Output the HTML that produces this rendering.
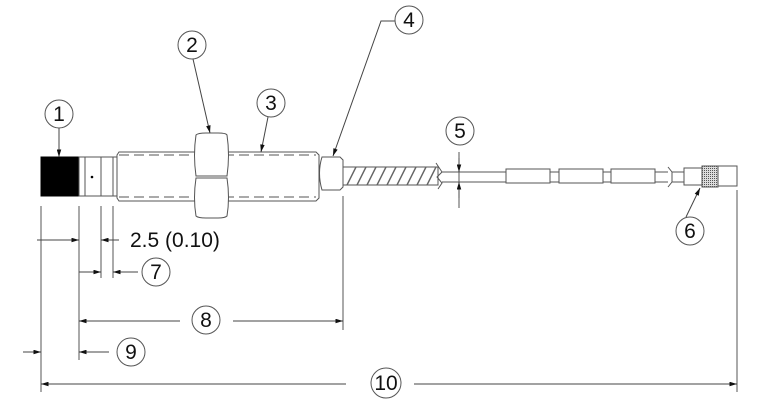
<!DOCTYPE html>
<html><head><style>
html,body{margin:0;padding:0;background:#fff;}
svg{display:block;}
text{font-family:"Liberation Sans",sans-serif;fill:#111;}
</style></head><body>
<svg width="771" height="413" viewBox="0 0 771 413" xmlns="http://www.w3.org/2000/svg">
<defs>
<marker id="a" viewBox="0 0 10 6" refX="10" refY="3" markerWidth="8" markerHeight="4.5" orient="auto" markerUnits="userSpaceOnUse"><path d="M0,0 L10,3 L0,6 z" fill="#111"/></marker>
<pattern id="k" width="2" height="2" patternUnits="userSpaceOnUse"><rect width="2" height="2" fill="#ddd"/><rect width="1" height="1" fill="#555"/></pattern>
</defs>
<g stroke="#555" stroke-width="1" fill="none">
<rect x="41" y="157" width="38" height="39" fill="#000" stroke="#000"/>
<rect x="79" y="157" width="38" height="39" fill="#fff"/>
<line x1="85" y1="157" x2="85" y2="196"/>
<line x1="101" y1="157" x2="101" y2="196"/>
<line x1="113" y1="157" x2="113" y2="196"/>
<circle cx="92" cy="177" r="1.3" fill="#000" stroke="none"/>
<path d="M117,155 L119,152 L316,152 L319,155 L319,198 L316,201 L119,201 L117,198 Z" fill="#fff"/>
<line x1="119" y1="155" x2="316" y2="155" stroke-dasharray="10,5"/>
<line x1="119" y1="197" x2="316" y2="197" stroke-dasharray="10,5"/>
<path d="M196,135 Q198,133 206,133 L218,133 Q226,133 227,135 Q230,155 227,176 L196,176 Q193,155 196,135 Z" fill="#fff"/>
<path d="M196,178 L227,178 Q230,198 227,216 Q225,218 218,218 L206,218 Q198,218 196,216 Q193,198 196,178 Z" fill="#fff"/>
<path d="M322,157 L340,157 L343,160 L343,187 L340,190 L322,190 Q317,173 322,157 Z" fill="#fff"/>
<rect x="343" y="167" width="95" height="18" fill="#fff"/>
<g stroke="#666" stroke-width="1.4">
<line x1="347" y1="185" x2="356" y2="167"/><line x1="357" y1="185" x2="366" y2="167"/>
<line x1="367" y1="185" x2="376" y2="167"/><line x1="377" y1="185" x2="386" y2="167"/>
<line x1="387" y1="185" x2="396" y2="167"/><line x1="397" y1="185" x2="406" y2="167"/>
<line x1="407" y1="185" x2="416" y2="167"/><line x1="417" y1="185" x2="426" y2="167"/>
<line x1="427" y1="185" x2="436" y2="167"/>
</g>
<path d="M436,163 L442,172 L437,177 L442,183 L438,189"/>
<line x1="442" y1="172" x2="668" y2="172"/>
<line x1="442" y1="182" x2="668" y2="182"/>
<rect x="506" y="169" width="44" height="14" fill="#fff"/>
<rect x="559" y="169" width="44" height="14" fill="#fff"/>
<rect x="611" y="169" width="44" height="14" fill="#fff"/>
<path d="M668,167 L672,172 L672,182 L668,187" fill="#fff"/>
<line x1="672" y1="172" x2="684" y2="172"/>
<line x1="672" y1="182" x2="684" y2="182"/>
<rect x="684" y="168" width="18" height="17" fill="#fff"/>
<rect x="702" y="166" width="16" height="21" fill="url(#k)"/>
<rect x="718" y="166" width="19" height="20" fill="#fff"/>
<line x1="41" y1="206" x2="41" y2="392"/>
<line x1="79" y1="206" x2="79" y2="360"/>
<line x1="101" y1="206" x2="101" y2="278"/>
<line x1="113" y1="206" x2="113" y2="278"/>
<line x1="343" y1="196" x2="343" y2="330"/>
<line x1="737" y1="190" x2="737" y2="392"/>
<line x1="459" y1="152" x2="459" y2="208"/>
</g>
<g stroke="#444" stroke-width="1" fill="none">
<line x1="37" y1="240" x2="79" y2="240" marker-end="url(#a)"/>
<line x1="119" y1="240" x2="101" y2="240" marker-end="url(#a)"/>
<line x1="79" y1="272" x2="101" y2="272" marker-end="url(#a)"/>
<line x1="138" y1="272" x2="113" y2="272" marker-end="url(#a)"/>
<line x1="180" y1="321" x2="79" y2="321" marker-end="url(#a)"/>
<line x1="233" y1="321" x2="343" y2="321" marker-end="url(#a)"/>
<line x1="23" y1="352" x2="41" y2="352" marker-end="url(#a)"/>
<line x1="109" y1="352" x2="79" y2="352" marker-end="url(#a)"/>
<line x1="346" y1="384" x2="41" y2="384" marker-end="url(#a)"/>
<line x1="414" y1="384" x2="737" y2="384" marker-end="url(#a)"/>
<line x1="459" y1="158" x2="459" y2="172" marker-end="url(#a)"/>
<line x1="459" y1="198" x2="459" y2="182" marker-end="url(#a)"/>
<line x1="59" y1="128" x2="59" y2="157" marker-end="url(#a)"/>
<line x1="193" y1="59" x2="210" y2="133" marker-end="url(#a)"/>
<line x1="268" y1="117" x2="261" y2="152" marker-end="url(#a)"/>
<polyline points="395,21 381,21 333,156" marker-end="url(#a)"/>
<line x1="686" y1="217" x2="700" y2="188" marker-end="url(#a)"/>
</g>
<g stroke="#555" stroke-width="1" fill="#fff">
<circle cx="59" cy="114" r="14"/>
<circle cx="192" cy="45" r="14"/>
<circle cx="271" cy="103" r="14"/>
<circle cx="409" cy="20" r="14"/>
<circle cx="460" cy="131" r="14"/>
<circle cx="690" cy="231" r="14"/>
<circle cx="156" cy="272" r="14"/>
<circle cx="206" cy="320" r="14"/>
<circle cx="131" cy="352" r="14"/>
<circle cx="386" cy="383" r="15"/>
</g>
<g font-size="21" text-anchor="middle">
<text x="59" y="121">1</text>
<text x="192" y="52">2</text>
<text x="271" y="110">3</text>
<text x="409" y="27">4</text>
<text x="460" y="138">5</text>
<text x="690" y="238">6</text>
<text x="156" y="279">7</text>
<text x="206" y="327">8</text>
<text x="131" y="359">9</text>
<text x="386" y="390">10</text>
</g>
<text x="130" y="247" font-size="21">2.5 (0.10)</text>
</svg>
</body></html>
